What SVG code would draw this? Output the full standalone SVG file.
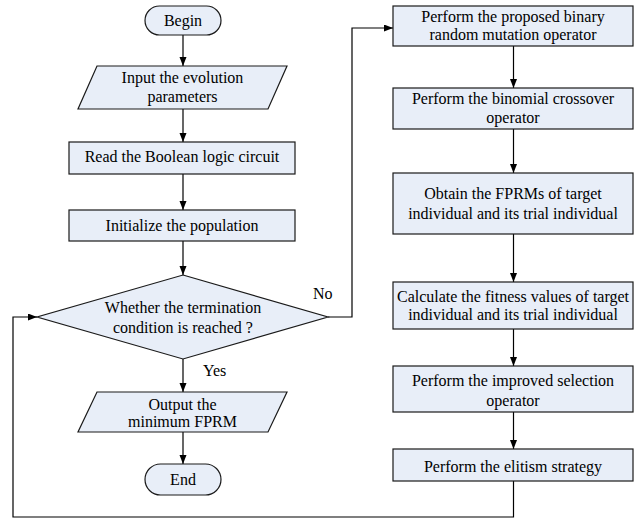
<svg xmlns="http://www.w3.org/2000/svg" width="642" height="519" viewBox="0 0 642 519">
<style>
.n{fill:#E8EEF8;stroke:#1a1a1a;stroke-width:1.2}
.c{fill:none;stroke:#000;stroke-width:1.2}
</style>
<defs>
<marker id="ah" markerUnits="userSpaceOnUse" markerWidth="10" markerHeight="8" refX="9" refY="3.5" orient="auto">
<path d="M0,0 L9,3.5 L0,7 z" fill="#000"/>
</marker>
</defs>
<rect width="642" height="519" fill="#fff"/>
<g id="connectors">
<path class="c" d="M183,35 V66" marker-end="url(#ah)"/>
<path class="c" d="M183,109 V142" marker-end="url(#ah)"/>
<path class="c" d="M183,174 V210" marker-end="url(#ah)"/>
<path class="c" d="M183,241 V275" marker-end="url(#ah)"/>
<path class="c" d="M183,359 V392" marker-end="url(#ah)"/>
<path class="c" d="M183,432 V464" marker-end="url(#ah)"/>
<path class="c" d="M328,317 H352 V28 H393" marker-end="url(#ah)"/>
<path class="c" d="M513.5,46 V88" marker-end="url(#ah)"/>
<path class="c" d="M513.5,129 V173" marker-end="url(#ah)"/>
<path class="c" d="M513.5,234 V282" marker-end="url(#ah)"/>
<path class="c" d="M513.5,329 V366" marker-end="url(#ah)"/>
<path class="c" d="M513.5,412 V449" marker-end="url(#ah)"/>
<path class="c" d="M513.5,481 V517 H13 V317 H37" marker-end="url(#ah)"/>
<text font-family="Liberation Serif" font-size="16" x="313" y="299">No</text>
<text font-family="Liberation Serif" font-size="16" x="203" y="376">Yes</text>
</g>
<g id="begin">
<rect class="n" x="145" y="6" width="76" height="29" rx="14.5"/>
<text font-family="Liberation Serif" font-size="16" text-anchor="middle" x="183" y="26">Begin</text>
</g>
<g id="input">
<polygon class="n" points="97,66 287,66 268,109 78,109"/>
<text font-family="Liberation Serif" font-size="16" text-anchor="middle" x="182.5" y="83">Input the evolution</text>
<text font-family="Liberation Serif" font-size="16" text-anchor="middle" x="182.5" y="102">parameters</text>
</g>
<g id="read">
<rect class="n" x="69" y="142" width="226" height="32"/>
<text font-family="Liberation Serif" font-size="16" text-anchor="middle" x="182" y="162">Read the Boolean logic circuit</text>
</g>
<g id="init">
<rect class="n" x="69" y="210" width="226" height="31"/>
<text font-family="Liberation Serif" font-size="16" text-anchor="middle" x="182" y="231">Initialize the population</text>
</g>
<g id="decision">
<polygon class="n" points="183,275 328,317 183,359 37,317"/>
<text font-family="Liberation Serif" font-size="16" text-anchor="middle" x="183" y="313">Whether the termination</text>
<text font-family="Liberation Serif" font-size="16" text-anchor="middle" x="183" y="333">condition is reached ?</text>
</g>
<g id="output">
<polygon class="n" points="97,392 287,392 268,432 78,432"/>
<text font-family="Liberation Serif" font-size="16" text-anchor="middle" x="182.5" y="409.5">Output the</text>
<text font-family="Liberation Serif" font-size="16" text-anchor="middle" x="182.5" y="427">minimum FPRM</text>
</g>
<g id="end">
<rect class="n" x="145" y="464" width="76" height="31" rx="15.5"/>
<text font-family="Liberation Serif" font-size="16" text-anchor="middle" x="183" y="484.5">End</text>
</g>
<g id="mutation">
<rect class="n" x="393" y="6" width="240" height="40"/>
<text font-family="Liberation Serif" font-size="16" text-anchor="middle" x="513" y="22">Perform the proposed binary</text>
<text font-family="Liberation Serif" font-size="16" text-anchor="middle" x="513" y="40">random mutation operator</text>
</g>
<g id="crossover">
<rect class="n" x="393" y="88" width="240" height="41"/>
<text font-family="Liberation Serif" font-size="16" text-anchor="middle" x="513" y="103.5">Perform the binomial crossover</text>
<text font-family="Liberation Serif" font-size="16" text-anchor="middle" x="513" y="122.5">operator</text>
</g>
<g id="fprm">
<rect class="n" x="393" y="173" width="240" height="61"/>
<text font-family="Liberation Serif" font-size="16" text-anchor="middle" x="513" y="198.5">Obtain the FPRMs of target</text>
<text font-family="Liberation Serif" font-size="16" text-anchor="middle" x="513" y="219">individual and its trial individual</text>
</g>
<g id="fitness">
<rect class="n" x="393" y="282" width="240" height="47"/>
<text font-family="Liberation Serif" font-size="16" text-anchor="middle" x="513" y="301.5">Calculate the fitness values of target</text>
<text font-family="Liberation Serif" font-size="16" text-anchor="middle" x="513" y="320">individual and its trial individual</text>
</g>
<g id="selection">
<rect class="n" x="393" y="366" width="240" height="46"/>
<text font-family="Liberation Serif" font-size="16" text-anchor="middle" x="513" y="386">Perform the improved selection</text>
<text font-family="Liberation Serif" font-size="16" text-anchor="middle" x="513" y="406">operator</text>
</g>
<g id="elitism">
<rect class="n" x="393" y="449" width="240" height="32"/>
<text font-family="Liberation Serif" font-size="16" text-anchor="middle" x="513" y="472">Perform the elitism strategy</text>
</g>
</svg>
